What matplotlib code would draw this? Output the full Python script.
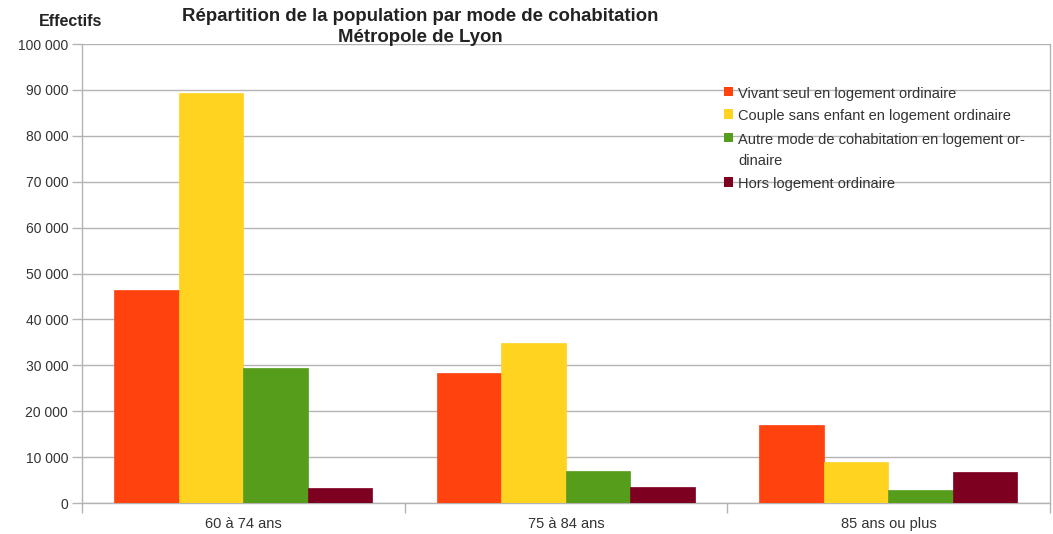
import matplotlib.pyplot as plt
import numpy as np
from matplotlib.patches import Rectangle
from matplotlib.ticker import FuncFormatter

plt.rcParams["font.family"] = ["Liberation Sans", "DejaVu Sans"]

categories = ["60 à 74 ans", "75 à 84 ans", "85 ans ou plus"]
series_names = [
    "Vivant seul en logement ordinaire",
    "Couple sans enfant en logement ordinaire",
    "Autre mode de cohabitation en logement or-\ndinaire",
    "Hors logement ordinaire",
]
vivant_seul = [46400, 28400, 16900]
couple_sans_enfant = [89300, 34900, 8870]
autre_mode = [29400, 6970, 2770]
hors_logement = [3270, 3550, 6690]
colors = ["#FF420E", "#FFD320", "#579D1C", "#7E0021"]

W, H = 1053, 534
fig = plt.figure(figsize=(W / 100, H / 100), dpi=100)
ax = fig.add_axes([0.0779, 0.058, 0.919, 0.8596])

x = np.arange(len(categories))
width = 0.2
all_series = [vivant_seul, couple_sans_enfant, autre_mode, hors_logement]
for i, (vals, name, col) in enumerate(zip(all_series, series_names, colors)):
    ax.bar(x + (i - 1.5) * width, vals, width, color=col, label=name,
           edgecolor=col, linewidth=0.5, zorder=3)

ax.set_xlim(-0.5, len(categories) - 0.5)
ax.set_ylim(0, 100000)
ax.set_yticks(np.arange(0, 100001, 10000))
ax.yaxis.set_major_formatter(FuncFormatter(lambda v, p: f"{int(v):,}".replace(",", " ")))
ax.grid(axis="y", color="#b3b3b3", linewidth=1, zorder=0)

ax.set_xticks(x)
ax.set_xticklabels(categories)
ax.set_xticks(np.arange(-0.5, len(categories)), minor=True)
ax.tick_params(axis="x", which="major", length=0, pad=10, labelsize=10.5, labelcolor="#333333")
ax.tick_params(axis="x", which="minor", length=7, color="#b3b3b3", width=1)
ax.tick_params(axis="y", length=7, color="#b3b3b3", width=1, pad=3,
               labelsize=10, labelcolor="#333333")

ax.spines["top"].set_visible(False)
for side in ["left", "right", "bottom"]:
    ax.spines[side].set_color("#b3b3b3")
    ax.spines[side].set_linewidth(1)

# legend drawn by hand so the wrapped entry keeps its marker on the first line
legend_y = [92, 114, 138, 182]  # pixel rows of the first text line
for name, col, yp in zip(series_names, colors, legend_y):
    fig.patches.append(Rectangle((724 / W, 1 - (yp + 4.5) / H), 9 / W, 9 / H,
                                 transform=fig.transFigure, facecolor=col,
                                 edgecolor="none"))
    fig.text(738 / W, 1 - (yp - 5) / H, name, ha="left", va="top",
             fontsize=10.5, color="#333333", linespacing=1.65)

fig.text(420 / W, 1 - 27 / H,
         "Répartition de la population par mode de cohabitation\nMétropole de Lyon",
         ha="center", va="center", fontsize=13.4, fontweight="bold",
         color="#222222", linespacing=1.3)
fig.text(71 / W, 1 - 22 / H, "Effectifs", ha="center", va="center", fontsize=11.5,
         fontweight="bold", color="#222222")

fig.savefig("out.png", dpi=100)
